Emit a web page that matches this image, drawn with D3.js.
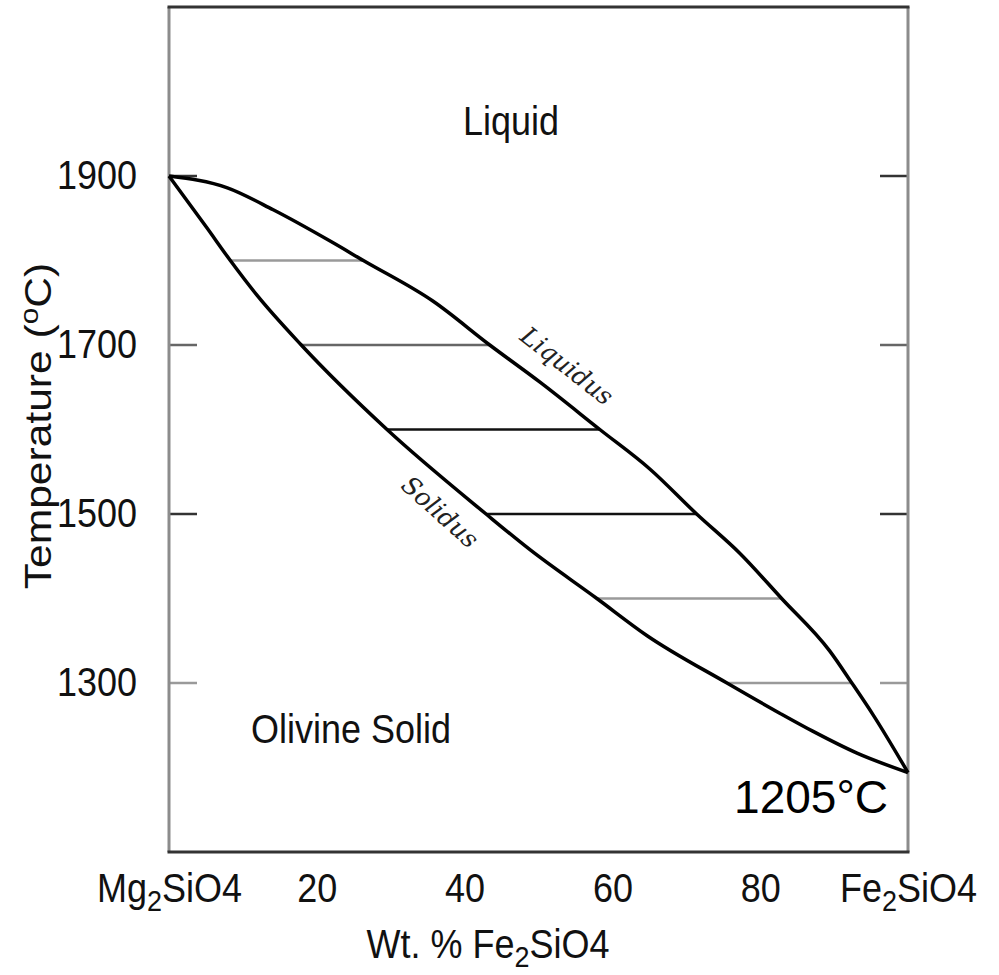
<!DOCTYPE html>
<html><head><meta charset="utf-8">
<script src="https://cdn.jsdelivr.net/npm/d3@7"></script>
<style>
body{margin:0;background:#fff;}
svg{display:block;font-family:"Liberation Sans",Arial,Helvetica,sans-serif;}
</style></head><body>
<svg id="chart" width="999" height="975"></svg>
<script>
// ---- data ----
const liquidusX = [0, 7.9, 14.1, 21.8, 26.3, 35.7, 43.4, 50.2, 58.3, 65.1, 71.4, 77.3, 82.9, 89.4, 92.4, 95.3, 100];
const liquidusT = [1900, 1886, 1860, 1823, 1800, 1752, 1700, 1656, 1600, 1553, 1500, 1453, 1400, 1338, 1300, 1262, 1194];
const solidusX = [0, 5.1, 8.3, 11.9, 17.9, 29.5, 42.9, 48.8, 57.9, 64.7, 75.5, 82.7, 87.1, 93.1, 100];
const solidusT = [1900, 1839, 1800, 1759, 1700, 1600, 1500, 1458, 1400, 1356, 1300, 1264, 1243, 1217, 1194];
const tieT = [1800, 1700, 1600, 1500, 1400, 1300];
const tieSolidX = [8.3, 17.9, 29.5, 42.9, 57.9, 75.5];
const tieLiqX = [26.3, 43.4, 58.3, 71.4, 82.9, 92.4];
const xTickValues = [0, 20, 40, 60, 80, 100];
const xTickLabels = [["Mg", "2", "SiO4"], ["20"], ["40"], ["60"], ["80"], ["Fe", "2", "SiO4"]];
const yTickValues = [1300, 1500, 1700, 1900];
const yTickLabels = ["1300", "1500", "1700", "1900"];
const xTitle = ["Wt. % Fe", "2", "SiO4"];
const yTitle = ["Temperature (", "o", "C)"];
const regionLabels = ["Liquid", "Olivine Solid"];
const curveLabels = ["Liquidus", "Solidus"];
const eutecticLabel = "1205°C";

// ---- drawing ----
const svg = d3.select("#chart");
const x = d3.scaleLinear().domain([0, 100]).range([169, 908]);
const y = d3.scaleLinear().domain([1100, 2100]).range([852, 7]);

const tieStroke = t => (t === 1600 || t === 1500) ? "#111" : (t === 1700 ? "#666" : "#9a9a9a");
const tickStroke = t => t === 1300 ? "#9a9a9a" : (t === 1700 ? "#666" : "#333");

// tie lines
svg.append("g").selectAll("line").data(tieT).join("line")
  .attr("x1", (d, i) => x(tieSolidX[i])).attr("x2", (d, i) => x(tieLiqX[i]))
  .attr("y1", d => y(d)).attr("y2", d => y(d))
  .attr("stroke", d => tieStroke(d)).attr("stroke-width", 2.5);

// inner ticks left & right
const tg = svg.append("g");
tg.selectAll("line.l").data(yTickValues).join("line").attr("class", "l")
  .attr("x1", x(0)).attr("x2", x(0) + 28).attr("y1", d => y(d)).attr("y2", d => y(d))
  .attr("stroke", d => tickStroke(d)).attr("stroke-width", 2.5);
tg.selectAll("line.r").data(yTickValues).join("line").attr("class", "r")
  .attr("x1", x(100) - 28).attr("x2", x(100)).attr("y1", d => y(d)).attr("y2", d => y(d))
  .attr("stroke", d => tickStroke(d)).attr("stroke-width", 2.5);

// frame
const fr = svg.append("g");
fr.append("line").attr("x1", x(0)).attr("x2", x(0)).attr("y1", y(2100)).attr("y2", y(1100)).attr("stroke", "#8c8c8c").attr("stroke-width", 3);
fr.append("line").attr("x1", x(100)).attr("x2", x(100)).attr("y1", y(2100)).attr("y2", y(1100)).attr("stroke", "#8c8c8c").attr("stroke-width", 3);
fr.append("line").attr("x1", x(0) - 1.5).attr("x2", x(100) + 1.5).attr("y1", y(2100)).attr("y2", y(2100)).attr("stroke", "#333").attr("stroke-width", 3);
fr.append("line").attr("x1", x(0) - 1.5).attr("x2", x(100) + 1.5).attr("y1", y(1100)).attr("y2", y(1100)).attr("stroke", "#333").attr("stroke-width", 3);

// curves
const line = d3.line().x(d => x(d[0])).y(d => y(d[1])).curve(d3.curveMonotoneX);
const liq = liquidusX.map((v, i) => [v, liquidusT[i]]);
const sol = solidusX.map((v, i) => [v, solidusT[i]]);
svg.append("path").attr("d", line(liq)).attr("fill", "none").attr("stroke", "#000").attr("stroke-width", 3.5).attr("stroke-linejoin", "round");
svg.append("path").attr("d", line(sol)).attr("fill", "none").attr("stroke", "#000").attr("stroke-width", 3.5).attr("stroke-linejoin", "round");

// y axis labels
const yAxis = svg.append("g").attr("transform", `translate(${x(0)},0)`)
  .call(d3.axisLeft(y).tickValues(yTickValues).tickSize(0).tickPadding(32).tickFormat((d, i) => yTickLabels[i]));
yAxis.select(".domain").remove();
yAxis.selectAll("text").attr("font-size", 36).attr("fill", "#111")
  .attr("font-family", "Liberation Sans, Arial, sans-serif").attr("transform", "scale(1,1.12)");

// x axis labels
const xAxis = svg.append("g").attr("transform", `translate(0,${y(1100)})`)
  .call(d3.axisBottom(x).tickValues(xTickValues).tickSize(0).tickFormat(""));
xAxis.select(".domain").remove();
xAxis.selectAll(".tick text").each(function (d, i) {
  const t = d3.select(this).attr("y", 0).attr("dy", 0)
    .attr("transform", "translate(0,50) scale(1,1.12)")
    .attr("font-size", 36).attr("fill", "#111").attr("font-family", "Liberation Sans, Arial, sans-serif");
  t.text(null);
  const parts = xTickLabels[i];
  parts.forEach((p, k) => {
    const ts = t.append("tspan").text(p);
    if (parts.length === 3 && k === 1) ts.attr("font-size", 27).attr("dy", 8);
    else if (k === 2) ts.attr("dy", -8);
  });
});

// x title
const xt = svg.append("text").attr("text-anchor", "middle").attr("font-size", 36).attr("fill", "#111")
  .attr("transform", "translate(488,958) scale(1,1.12)");
xTitle.forEach((p, k) => {
  const ts = xt.append("tspan").text(p);
  if (k === 1) ts.attr("font-size", 27).attr("dy", 8);
  if (k === 2) ts.attr("dy", -8);
});

// y title
const yt = svg.append("text").attr("text-anchor", "middle").attr("font-size", 37).attr("fill", "#111")
  .attr("transform", "translate(51,426) rotate(-90) scale(1.15,1)");
yTitle.forEach((p, k) => {
  const ts = yt.append("tspan").text(p);
  if (k === 1) ts.attr("font-size", 26).attr("dy", -13);
  if (k === 2) ts.attr("dy", 13);
});

// region labels
svg.append("text").attr("text-anchor", "middle").attr("font-size", 36).attr("fill", "#111")
  .attr("transform", "translate(511,135) scale(1,1.12)").text(regionLabels[0]);
svg.append("text").attr("text-anchor", "middle").attr("font-size", 36).attr("fill", "#111")
  .attr("transform", "translate(351,743) scale(1,1.12)").text(regionLabels[1]);

// curve labels
svg.append("text").attr("text-anchor", "middle").attr("dominant-baseline", "central")
  .attr("font-family", "DejaVu Serif, serif").attr("font-style", "italic").attr("font-size", 25).attr("fill", "#222")
  .attr("transform", "translate(567,366) rotate(38)").text(curveLabels[0]);
svg.append("text").attr("text-anchor", "middle").attr("dominant-baseline", "central")
  .attr("font-family", "DejaVu Serif, serif").attr("font-style", "italic").attr("font-size", 25).attr("fill", "#222")
  .attr("transform", "translate(440,512) rotate(42)").text(curveLabels[1]);

// end-member melting point label
svg.append("text").attr("text-anchor", "end").attr("font-size", 46).attr("fill", "#000")
  .attr("x", 888).attr("y", 813).text(eutecticLabel);
</script>
</body></html>
